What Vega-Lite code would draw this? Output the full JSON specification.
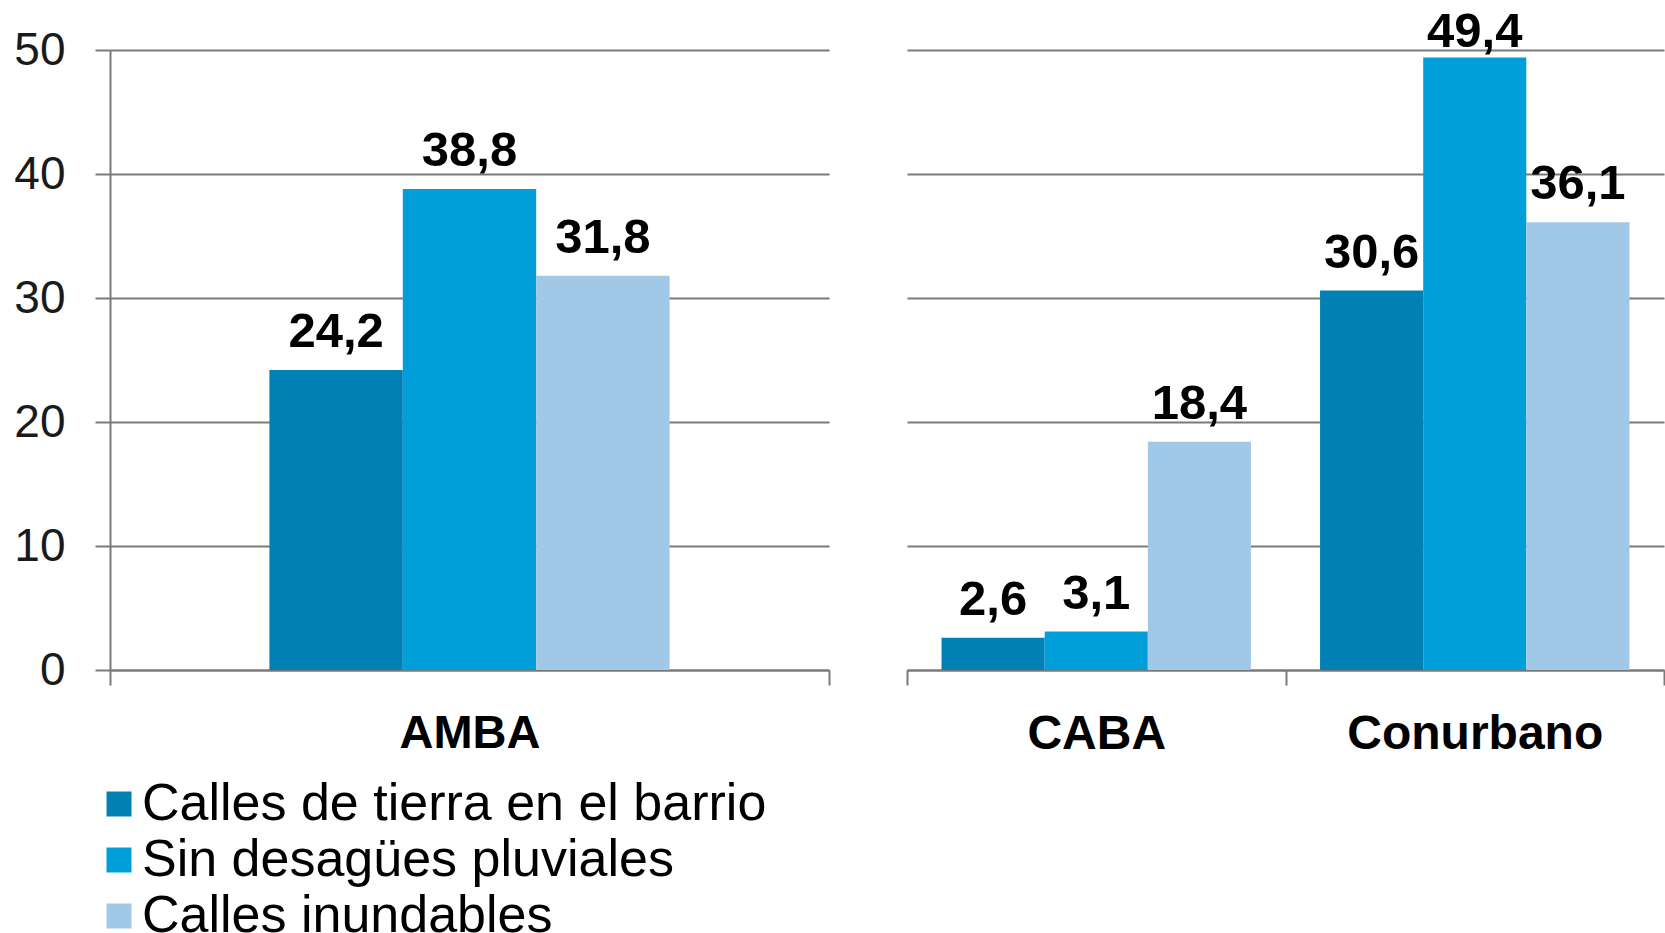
{
  "$schema": "https://vega.github.io/schema/vega-lite/v6.json",
  "background": "white",
  "padding": {"left": 13, "top": 8, "right": 0, "bottom": 0},
  "config": {
    "locale": {"number": {"decimal": ",", "thousands": ".", "grouping": [3], "currency": ["$", ""]}},
    "view": {"stroke": null},
    "font": "Liberation Sans",
    "concat": {"spacing": 76}
  },
  "resolve": {"scale": {"x": "independent", "xOffset": "independent"}},
  "datasets": {
    "left": [
      {"region": "AMBA", "serie": "Calles de tierra en el barrio", "valor": 24.2},
      {"region": "AMBA", "serie": "Sin desagües pluviales", "valor": 38.8},
      {"region": "AMBA", "serie": "Calles inundables", "valor": 31.8}
    ],
    "right": [
      {"region": "CABA", "serie": "Calles de tierra en el barrio", "valor": 2.6},
      {"region": "CABA", "serie": "Sin desagües pluviales", "valor": 3.1},
      {"region": "CABA", "serie": "Calles inundables", "valor": 18.4},
      {"region": "Conurbano", "serie": "Calles de tierra en el barrio", "valor": 30.6},
      {"region": "Conurbano", "serie": "Sin desagües pluviales", "valor": 49.4},
      {"region": "Conurbano", "serie": "Calles inundables", "valor": 36.1}
    ]
  },
  "hconcat": [
    {
      "width": 719,
      "height": 620,
      "data": {"name": "left"},
      "encoding": {
        "x": {
          "field": "region", "type": "nominal",
          "scale": {"paddingInner": 0, "paddingOuter": 0},
          "axis": {"title": null, "labelAngle": 0, "labelFontSize": 47, "labelFontWeight": "bold", "labelColor": "#000000",
                   "labelLimit": 1000, "labelPadding": 25, "domainColor": "#7a7a7a", "domainWidth": 2, "tickColor": "#7a7a7a", "tickWidth": 2,
                   "tickSize": 15, "tickBand": "extent", "grid": false}
        },
        "xOffset": {
          "field": "serie", "type": "nominal",
          "scale": {"domain": ["_a", "Calles de tierra en el barrio", "Sin desagües pluviales", "Calles inundables", "_b"],
                    "paddingInner": 0, "paddingOuter": 0.195}
        },
        "y": {
          "field": "valor", "type": "quantitative",
          "scale": {"domain": [0, 50], "nice": false},
          "axis": {"title": null, "values": [0, 10, 20, 30, 40, 50], "labelFontSize": 46, "labelColor": "#1a1a1a",
                   "labelPadding": 30, "domainColor": "#7a7a7a", "domainWidth": 2, "tickColor": "#7a7a7a", "tickWidth": 2,
                   "tickSize": 15, "grid": true, "gridColor": "#7a7a7a", "gridWidth": 2, "gridOpacity": 1}
        }
      },
      "layer": [
        {
          "mark": {"type": "bar"},
          "encoding": {
            "color": {
              "field": "serie", "type": "nominal",
              "scale": {"domain": ["Calles de tierra en el barrio", "Sin desagües pluviales", "Calles inundables"],
                        "range": ["#0080b3", "#009fd9", "#a2c8e8"]},
              "legend": {"title": null, "orient": "none", "legendX": -17, "legendY": 728, "symbolType": "square",
                         "symbolSize": 625, "symbolStrokeWidth": 0, "symbolOpacity": 1, "labelFontSize": 52,
                         "labelColor": "#000000", "labelLimit": 1000, "rowPadding": 4, "labelOffset": -3}
            }
          }
        },
        {
          "mark": {"type": "text", "baseline": "alphabetic", "dy": -23, "fontSize": 49, "fontWeight": "bold", "color": "#000000"},
          "encoding": {"text": {"field": "valor", "type": "quantitative", "format": ".1f"}}
        }
      ]
    },
    {
      "width": 757,
      "height": 620,
      "data": {"name": "right"},
      "encoding": {
        "x": {
          "field": "region", "type": "nominal",
          "scale": {"paddingInner": 0, "paddingOuter": 0},
          "axis": {"title": null, "labelAngle": 0, "labelFontSize": 48, "labelFontWeight": "bold", "labelColor": "#000000",
                   "labelLimit": 1000, "labelPadding": 25, "domainColor": "#7a7a7a", "domainWidth": 2, "tickColor": "#7a7a7a", "tickWidth": 2,
                   "tickSize": 15, "tickBand": "extent", "grid": false}
        },
        "xOffset": {
          "field": "serie", "type": "nominal",
          "sort": ["Calles de tierra en el barrio", "Sin desagües pluviales", "Calles inundables"],
          "scale": {"paddingInner": 0, "paddingOuter": 0.335}
        },
        "y": {
          "field": "valor", "type": "quantitative",
          "scale": {"domain": [0, 50], "nice": false},
          "axis": {"title": null, "values": [0, 10, 20, 30, 40, 50], "labels": false, "ticks": false, "domain": false,
                   "grid": true, "gridColor": "#7a7a7a", "gridWidth": 2, "gridOpacity": 1}
        }
      },
      "layer": [
        {
          "mark": {"type": "bar"},
          "encoding": {
            "color": {
              "field": "serie", "type": "nominal",
              "scale": {"domain": ["Calles de tierra en el barrio", "Sin desagües pluviales", "Calles inundables"],
                        "range": ["#0080b3", "#009fd9", "#a2c8e8"]},
              "legend": null
            }
          }
        },
        {
          "mark": {"type": "text", "baseline": "alphabetic", "dy": {"expr": "datum.valor > 45 ? -10 : -23"}, "fontSize": 49, "fontWeight": "bold", "color": "#000000"},
          "encoding": {"text": {"field": "valor", "type": "quantitative", "format": ".1f"}}
        }
      ]
    }
  ]
}
